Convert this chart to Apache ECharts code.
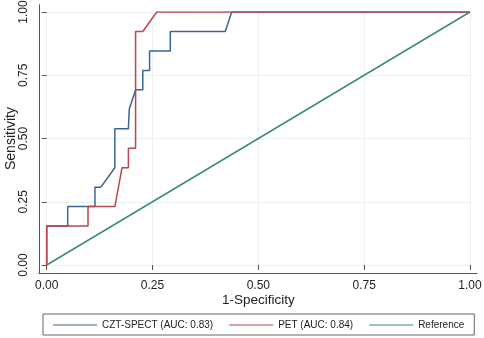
<!DOCTYPE html>
<html>
<head>
<meta charset="utf-8">
<script src="https://cdn.jsdelivr.net/npm/echarts@6/dist/echarts.min.js"></script>
<style>html,body{margin:0;padding:0;background:#fff;}#c{width:484px;height:338px;}</style>
</head>
<body>
<div id="c"></div>
<script>
var tickValues = [0, 0.25, 0.5, 0.75, 1];
var seriesNames = ['CZT-SPECT (AUC: 0.83)', 'PET (AUC: 0.84)', 'Reference'];
// 1-Specificity (x), Sensitivity (y)
var cztX = [0, 0, 0.0496, 0.0496, 0.114, 0.114, 0.128, 0.161, 0.161, 0.193, 0.195, 0.210, 0.227, 0.227, 0.243, 0.243, 0.292, 0.292, 0.422, 0.437, 1];
var cztY = [0, 0.1538, 0.1538, 0.2308, 0.2308, 0.3077, 0.3077, 0.3846, 0.5385, 0.5385, 0.6154, 0.6923, 0.6923, 0.7692, 0.7692, 0.8462, 0.8462, 0.9231, 0.9231, 1, 1];
var petX = [0, 0, 0.0976, 0.0976, 0.161, 0.178, 0.193, 0.193, 0.210, 0.210, 0.227, 0.26, 1];
var petY = [0, 0.1538, 0.1538, 0.2308, 0.2308, 0.3846, 0.3846, 0.4615, 0.4615, 0.9231, 0.9231, 1, 1];
var refX = [0, 1];
var refY = [0, 1];

function pairs(xs, ys) { return xs.map(function (x, i) { return [x, ys[i]]; }); }

var chart = echarts.init(document.getElementById('c'), null, {renderer: 'canvas'});
var font = 'Liberation Sans, Arial, sans-serif';
var gridColor = '#e9f1f3';
var axisColor = '#555';
chart.setOption({
  animation: false,
  backgroundColor: '#fff',
  textStyle: {fontFamily: font},
  grid: [
    {left: 46.7, right: 14, top: 12, bottom: 73, containLabel: false, outerBoundsMode: 'none'},
    {left: 39, right: 7, top: 4.7, bottom: 64.7, containLabel: false, outerBoundsMode: 'none'}
  ],
  xAxis: [{
    type: 'value', gridIndex: 0, min: 0, max: 1, interval: 0.25, offset: 8,
    name: '1-Specificity', nameLocation: 'middle', nameGap: 20, nameMoveOverlap: false,
    nameTextStyle: {fontSize: 13.5, color: '#222', fontFamily: font},
    axisLine: {show: false},
    axisTick: {show: true, length: 5, lineStyle: {color: axisColor}},
    axisLabel: {fontSize: 12, color: '#222', margin: 7, fontFamily: font,
      formatter: function (v) { return v.toFixed(2); }},
    splitLine: {show: true, lineStyle: {color: gridColor, width: 1}}
  }, {
    type: 'value', gridIndex: 1, min: 0, max: 1,
    axisLine: {show: true, onZero: false, lineStyle: {color: axisColor, width: 1}},
    axisTick: {show: false}, axisLabel: {show: false}, splitLine: {show: false}
  }],
  yAxis: [{
    type: 'value', gridIndex: 0, min: 0, max: 1, interval: 0.25, offset: 7.7,
    name: 'Sensitivity', nameLocation: 'middle', nameGap: 21, nameMoveOverlap: false,
    nameTextStyle: {fontSize: 14, color: '#222', fontFamily: font},
    axisLine: {show: false},
    axisTick: {show: true, length: 5, lineStyle: {color: axisColor}},
    axisLabel: {fontSize: 12, color: '#222', margin: 9, rotate: 90, fontFamily: font,
      formatter: function (v) { return v.toFixed(2); }},
    splitLine: {show: true, lineStyle: {color: gridColor, width: 1}}
  }, {
    type: 'value', gridIndex: 1, min: 0, max: 1,
    axisLine: {show: true, onZero: false, lineStyle: {color: axisColor, width: 1}},
    axisTick: {show: false}, axisLabel: {show: false}, splitLine: {show: false}
  }],
  legend: {
    left: 43, top: 314, orient: 'horizontal',
    padding: [6, 10, 5, 10], itemGap: 16, itemWidth: 44, itemHeight: 12,
    borderColor: '#666', borderWidth: 1,
    textStyle: {fontSize: 10, color: '#222', fontFamily: font},
    data: seriesNames.map(function (n) { return {name: n, icon: 'path://M0,0 L44,0 L44,1.2 L0,1.2 Z'}; })
  },
  series: [
    {name: seriesNames[2], type: 'line', xAxisIndex: 0, yAxisIndex: 0, data: pairs(refX, refY),
      showSymbol: false, symbol: 'none', lineStyle: {color: '#3b8a7c', width: 1.5}, itemStyle: {color: '#3b8a7c'}, z: 2},
    {name: seriesNames[0], type: 'line', xAxisIndex: 0, yAxisIndex: 0, data: pairs(cztX, cztY),
      showSymbol: false, symbol: 'none', lineStyle: {color: '#3a6590', width: 1.5}, itemStyle: {color: '#3a6590'}, z: 3},
    {name: seriesNames[1], type: 'line', xAxisIndex: 0, yAxisIndex: 0, data: pairs(petX, petY),
      showSymbol: false, symbol: 'none', lineStyle: {color: '#b8464f', width: 1.5}, itemStyle: {color: '#b8464f'}, z: 4}
  ]
});
</script>
</body>
</html>
